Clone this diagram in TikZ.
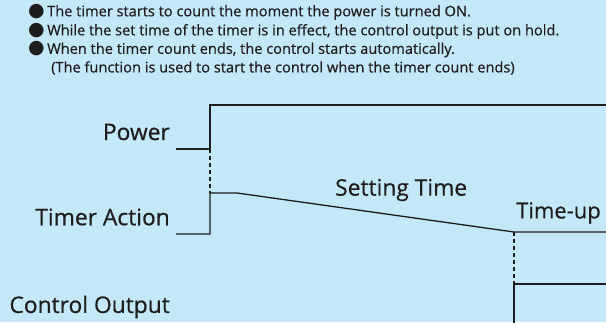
\documentclass[tikz,border=0pt]{standalone}
\usepackage{fontspec}
\setmainfont{Open Sans}[FakeBold = 0.5, AutoFakeBold = 0.5]
\newfontfamily\symfont{DejaVu Sans}
\usepackage{tikz}
\usetikzlibrary{positioning}
\definecolor{bgblue}{RGB}{197,232,248}
\definecolor{ink}{RGB}{30,28,30}
\tikzset{
  every picture/.style = {
    x = 1pt,
    y = -1pt,
  }
  ,
  signal/.style = {
    draw = ink,
    line width = 1.3pt,
    line join = miter
  }
  , % guide between two signals
  guide/.style = {
    draw = ink,
    line width = 1.1pt,
    dash pattern = on 4pt off 3pt
  }
  , % names of the signals
  label-signal/.style = {
    anchor = east,
    text = ink,
    font = \fontsize{22.8}{24}\selectfont\bfseries,
    inner sep = 0pt
  }
  , % texts at the curve
  label-curve/.style = {
    anchor = west,
    text = ink,
    font = \fontsize{22.8}{24}\selectfont\bfseries,
    inner sep = 0pt
  }
  , % lines of the notes
  note/.style = {
    anchor = west,
    text = ink,
    font = \fontsize{14.6}{18}\selectfont\bfseries,
    inner sep = 0pt
  }
}
\newcommand{\notebullet}{{\symfont\fontsize{19}{18}\selectfont ●}}

\begin{document}
\begin{tikzpicture}
\fill[bgblue] (0,0) rectangle (606,322);
\useasboundingbox (0,0) rectangle (606,322);

% notes
\node[note] (n1) at (28,12) {\notebullet\,The timer starts to count the moment the power is turned ON.};
\node[note] (n2) at (28,31) {\notebullet\,While the set time of the timer is in effect, the control output is put on hold.};
\node[note] (n3) at (28,49.5) {\notebullet\,When the timer count ends, the control starts automatically.};
\node[note] (n4) at (51,68) {(The function is used to start the control when the timer count ends)};

% signal names
\node[label-signal] (power) at (170,132) {Power};
\node[label-signal] (timer) at (170,217) {Timer Action};
\node[label-signal] (control) at (170,307) {Control Output};
\node[label-curve] (setting) at (335,190) {Setting Time};
\node[label-curve, font = \fontsize{22}{24}\selectfont\bfseries] (timeup) at (516,213) {Time-up};

% power
\coordinate (p0) at (176,149);
\coordinate (p1) at (210,149);
\coordinate (p2) at (210,105);
\coordinate (p3) at (607,105);
\draw[signal] (p0) -- (p1) -- (p2) -- (p3);

% timer action
\coordinate (t0) at (176,234);
\coordinate (t1) at (210,234);
\coordinate (t2) at (210,193);
\coordinate (t3) at (237,193);
\coordinate (t4) at (514,232);
\coordinate (t5) at (607,232);
\draw[signal] (t0) -- (t1) -- (t2) -- (t3) -- (t4) -- (t5);

% control output
\coordinate (c0) at (514,323);
\coordinate (c1) at (514,284);
\coordinate (c2) at (607,284);
\draw[signal] (c0) -- (c1) -- (c2);

\draw[guide] (p1) -- (t2);
\draw[guide] (t4) -- (c1);
\end{tikzpicture}
\end{document}
